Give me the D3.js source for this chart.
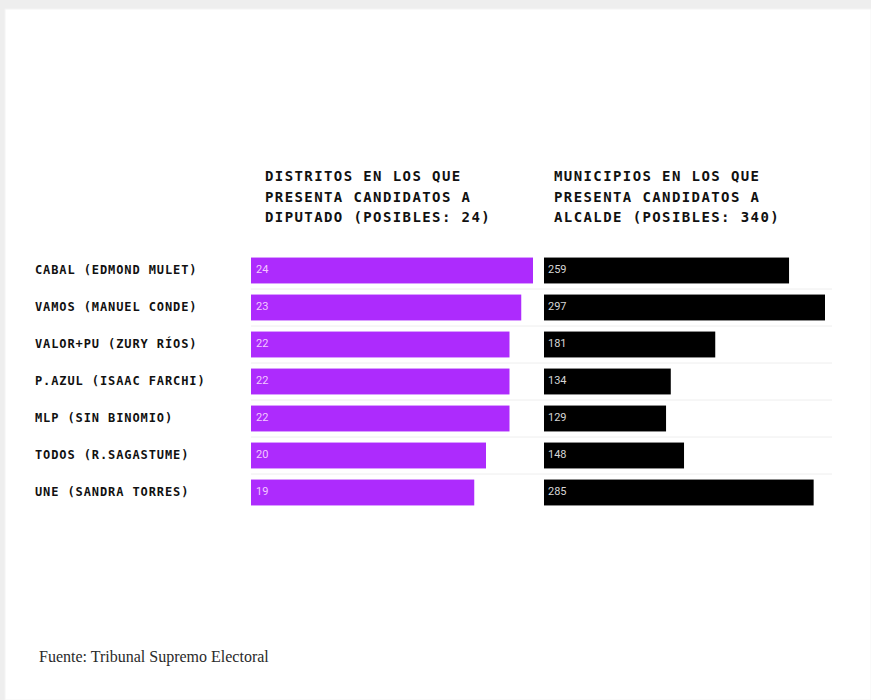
<!DOCTYPE html>
<html>
<head>
<meta charset="utf-8">
<script src="https://cdn.jsdelivr.net/npm/d3@7"></script>
<style>
  body { margin: 0; background: #eeeeee; }
  .rowLabel { font-family: "DejaVu Sans Mono", monospace; font-weight: bold; font-size: 12px; letter-spacing: 0.9px; fill: #111; }
  .header { font-family: "DejaVu Sans Mono", monospace; font-weight: bold; font-size: 14px; letter-spacing: 1.4px; fill: #111; }
  .valueLabel { font-family: Roboto, sans-serif; font-size: 11px; }
  .source { font-family: "Liberation Serif", serif; font-size: 16px; fill: #2a2a2a; }
</style>
</head>
<body>
<div class="chart"></div>
<script>
var parties = [
  "CABAL (EDMOND MULET)",
  "VAMOS (MANUEL CONDE)",
  "VALOR+PU (ZURY RÍOS)",
  "P.AZUL (ISAAC FARCHI)",
  "MLP (SIN BINOMIO)",
  "TODOS (R.SAGASTUME)",
  "UNE (SANDRA TORRES)"
];
var distritos = [24, 23, 22, 22, 22, 20, 19];
var municipios = [259, 297, 181, 134, 129, 148, 285];

var headerDistritos = ["DISTRITOS EN LOS QUE", "PRESENTA CANDIDATOS A", "DIPUTADO (POSIBLES: 24)"];
var headerMunicipios = ["MUNICIPIOS EN LOS QUE", "PRESENTA CANDIDATOS A", "ALCALDE (POSIBLES: 340)"];

var svgWidth = 871;
var svgHeight = 700;

var svg = d3.select(".chart")
  .append("svg")
  .attr("width", svgWidth)
  .attr("height", svgHeight)
  .style("display", "block");

// white card on the gray page
svg.append("rect")
  .attr("x", 5)
  .attr("y", 9)
  .attr("width", svgWidth - 5)
  .attr("height", svgHeight - 9)
  .attr("fill", "#fff")
  .attr("stroke", "#f4f4f4");

var rows = parties.map(function(p, i) {
  return { party: p, distritos: distritos[i], municipios: municipios[i] };
});

// scales
var yScale = d3.scaleBand()
  .domain(parties)
  .range([252, 511])
  .paddingInner(0.3)
  .paddingOuter(0.15);

var xDistritos = d3.scaleLinear()
  .domain([0, d3.max(distritos)])
  .range([251, 533]);

var xMunicipios = d3.scaleLinear()
  .domain([0, d3.max(municipios)])
  .range([544, 825]);

// separators between rows
var step = yScale.step();
svg.selectAll(".sep")
  .data(parties.slice(1))
  .enter()
  .append("line")
  .attr("x1", 251)
  .attr("x2", 832)
  .attr("y1", d => yScale(d) - (step - yScale.bandwidth()) / 2)
  .attr("y2", d => yScale(d) - (step - yScale.bandwidth()) / 2)
  .attr("stroke", "#eeeeee")
  .attr("stroke-width", 1);

// headers
function drawHeader(lines, x) {
  svg.append("text")
    .attr("class", "header")
    .selectAll("tspan")
    .data(lines)
    .enter()
    .append("tspan")
    .attr("x", x)
    .attr("y", (d, i) => 181 + i * 20.5)
    .text(d => d);
}
drawHeader(headerDistritos, 265);
drawHeader(headerMunicipios, 554);

// row labels
svg.selectAll(".rowLabel")
  .data(rows)
  .enter()
  .append("text")
  .attr("class", "rowLabel")
  .attr("x", 35)
  .attr("y", d => yScale(d.party) + yScale.bandwidth() / 2 - 0.5)
  .attr("dominant-baseline", "middle")
  .text(d => d.party);

// purple bars
svg.selectAll(".barD")
  .data(rows)
  .enter()
  .append("rect")
  .attr("class", "barD")
  .attr("x", xDistritos(0))
  .attr("y", d => yScale(d.party))
  .attr("width", d => xDistritos(d.distritos) - xDistritos(0))
  .attr("height", yScale.bandwidth())
  .attr("fill", "#ad2bfd");

svg.selectAll(".valD")
  .data(rows)
  .enter()
  .append("text")
  .attr("class", "valueLabel")
  .attr("x", xDistritos(0) + 5)
  .attr("y", d => yScale(d.party) + yScale.bandwidth() / 2)
  .attr("dominant-baseline", "middle")
  .attr("fill", "#f3c9ff")
  .text(d => d.distritos);

// black bars
svg.selectAll(".barM")
  .data(rows)
  .enter()
  .append("rect")
  .attr("class", "barM")
  .attr("x", xMunicipios(0))
  .attr("y", d => yScale(d.party))
  .attr("width", d => xMunicipios(d.municipios) - xMunicipios(0))
  .attr("height", yScale.bandwidth())
  .attr("fill", "#000");

svg.selectAll(".valM")
  .data(rows)
  .enter()
  .append("text")
  .attr("class", "valueLabel")
  .attr("x", xMunicipios(0) + 4)
  .attr("y", d => yScale(d.party) + yScale.bandwidth() / 2)
  .attr("dominant-baseline", "middle")
  .attr("fill", "#d6d6d6")
  .text(d => d.municipios);

// source
svg.append("text")
  .attr("class", "source")
  .attr("x", 39)
  .attr("y", 662)
  .text("Fuente: Tribunal Supremo Electoral");
</script>
</body>
</html>
